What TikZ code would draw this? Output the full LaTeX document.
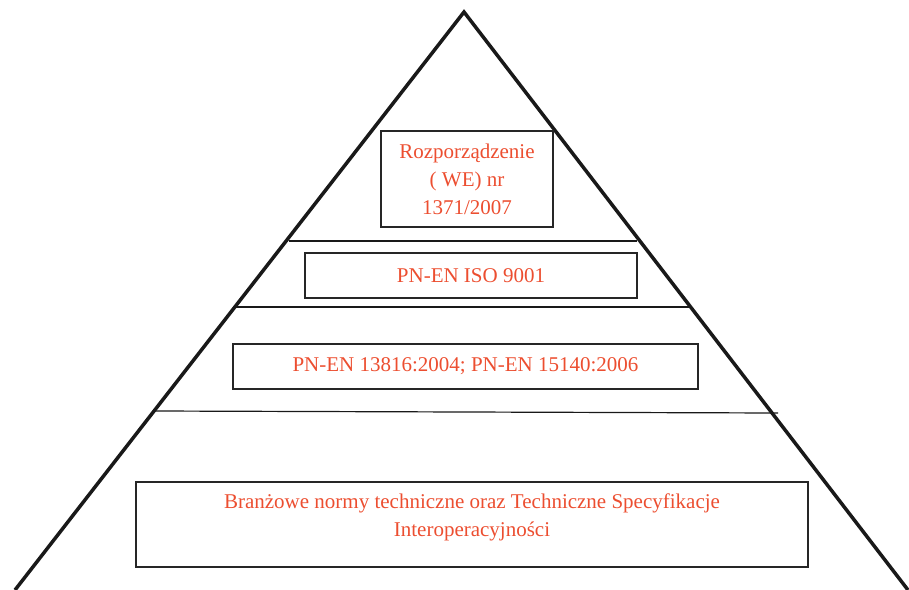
\documentclass[tikz,border=0pt]{standalone}
\usepackage{fontspec}
\setmainfont{Liberation Serif}
\usetikzlibrary{positioning}
\definecolor{normred}{RGB}{236,78,48}

\begin{document}
\begin{tikzpicture}[x=1pt, y=-1pt,
  normbox/.style={draw=black!85, line width=1.1pt, inner sep=0pt},
  normtext/.style={text=normred, font=\fontsize{21}{28}\selectfont, align=center},
  level/.style={line width=1.2pt, black!90}]
%\draw [help lines, step=10](0,0) grid (909,589);
\useasboundingbox (0,0) rectangle (909,589);
\clip (0,0) rectangle (909,589);

\coordinate (top) at (464,12);
\coordinate (bl) at (15,590);
\coordinate (br) at (908,590);
\draw [line width=3.5pt, black!90] (bl) -- (top) -- (br);

% poziomy
\draw [level] (289,241) -- (637,241);
\draw [level] (236,307) -- (692,307);
\draw [level] (155,411) -- (778,413);

\node [normbox, normtext, minimum width=172, minimum height=96] (rozp) at (467,179) {Rozporządzenie\\( WE) nr\\1371/2007};
\node [normbox, normtext, minimum width=332, minimum height=45] (iso) at (471,275.5) {PN-EN ISO 9001};
\node [normbox, normtext, minimum width=465, minimum height=45] (en) at (465.5,366.5) {PN-EN 13816:2004; PN-EN 15140:2006};
\node [normbox, minimum width=672, minimum height=85] (tsi) at (472,524.5) {};
\node [normtext] (tsitext) at ([yshift=7pt]tsi.center) {Branżowe normy techniczne oraz Techniczne Specyfikacje\\Interoperacyjności};
\end{tikzpicture}
\end{document}
